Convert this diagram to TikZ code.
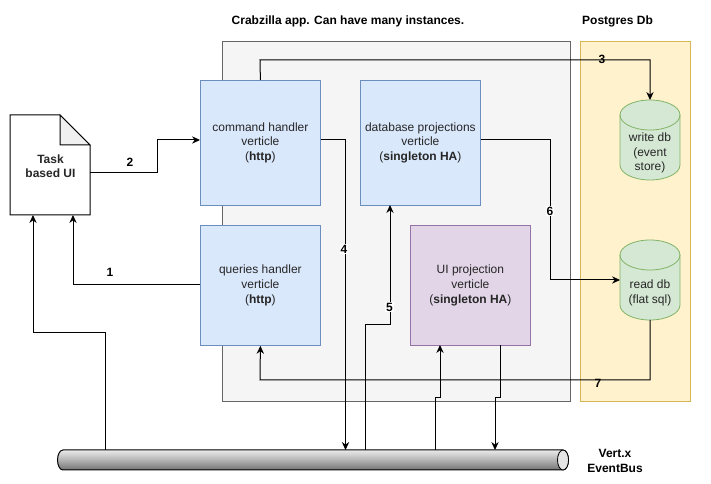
\documentclass[tikz,border=0pt]{standalone}
\usepackage{fontspec}
\setmainfont{Liberation Sans}
\usetikzlibrary{arrows.meta}
\definecolor{boxblue}{HTML}{DAE8FC}\definecolor{edgeblue}{HTML}{6C8EBF}
\definecolor{boxpurple}{HTML}{E1D5E7}\definecolor{edgepurple}{HTML}{9673A6}
\definecolor{boxgreen}{HTML}{D5E8D4}\definecolor{edgegreen}{HTML}{82B366}
\definecolor{boxyellow}{HTML}{FFF2CC}\definecolor{edgeyellow}{HTML}{D6B656}
\definecolor{boxgray}{HTML}{F5F5F5}\definecolor{edgegray}{HTML}{666666}
\tikzset{
 x=0.75pt,y=-0.75pt,
 lbl/.style={font=\fontsize{9}{10.9}\selectfont,align=center,inner sep=0pt,text=black!85},
 vbox/.style={lbl,draw=edgeblue,fill=boxblue,line width=0.6pt,minimum width=90pt,inner sep=0pt,anchor=north west},
 purplebox/.style={vbox,draw=edgepurple,fill=boxpurple},
 cyl/.style={draw=edgegreen,fill=boxgreen,line width=0.6pt},
 hold/.style={inner sep=0pt,outer sep=0pt,anchor=north west},
 conn/.style={draw=black,line width=0.75pt,-{Stealth[length=6pt,width=5.5pt,inset=2pt]}},
 num/.style={font=\bfseries\fontsize{9}{10}\selectfont,inner sep=0.5pt},
 numw/.style={num,fill=white},
 head/.style={font=\bfseries\fontsize{9}{10.9}\selectfont,align=center,inner sep=0pt}
}
\begin{document}
\begin{tikzpicture}
\useasboundingbox (0,0) rectangle (711,484);
\fill[white] (0,0) rectangle (711,484);
% containers
\draw[draw=edgegray,fill=boxgray,line width=0.6pt] (222,41) rectangle (570,401);
\draw[draw=edgeyellow,fill=boxyellow,line width=0.6pt] (580,41) rectangle (690,401);
\node[head] (apptitle) at (348,21) {Crabzilla app. Can have many instances.};
\node[head] (pgtitle) at (617.5,21) {Postgres Db};
% document
\draw[fill=white,draw=black,line width=0.75pt] (10,115) -- (60,115) -- (90,145) -- (90,215) -- (10,215) -- cycle;
\draw[fill=black!6,draw=black,line width=0.75pt] (60,115) -- (90,145) -- (60,145) -- cycle;
\node[hold,minimum width=60pt,minimum height=75pt] (doc) at (10,115) {};
\node[font=\bfseries\fontsize{9}{10.5}\selectfont,align=center,text=black!85,inner sep=0pt] (doctext) at (50.5,166.5) {Task\\based UI};
% bus
\shade[top color=black!8,bottom color=black!55,middle color=black!30,shading angle=0] (63,450) -- (563,450) .. controls (566,450) and (568.5,454.5) .. (568.5,460) .. controls (568.5,465.5) and (566,470) .. (563,470) -- (63,470) .. controls (60,470) and (57.5,465.5) .. (57.5,460) .. controls (57.5,454.5) and (60,450) .. (63,450) -- cycle;
\draw[line width=0.75pt,draw=black] (63,450) -- (563,450) .. controls (566,450) and (568.5,454.5) .. (568.5,460) .. controls (568.5,465.5) and (566,470) .. (563,470) -- (63,470) .. controls (60,470) and (57.5,465.5) .. (57.5,460) .. controls (57.5,454.5) and (60,450) .. (63,450) -- cycle;
\draw[fill=black!10,line width=0.6pt] (563,450) .. controls (566,450) and (568.5,454.5) .. (568.5,460) .. controls (568.5,465.5) and (566,470) .. (563,470) .. controls (560,470) and (557.5,465.5) .. (557.5,460) .. controls (557.5,454.5) and (560,450) .. (563,450) -- cycle;
\node[hold,minimum width=382.5pt,minimum height=15pt] (bus) at (58,450) {};
\node[head] (buslabel) at (615,461) {Vert.x\\EventBus};
% verticles
\node[vbox,minimum height=93.75pt] (cmd) at (200,80) {command handler\\verticle\\(\textbf{http})};
\node[vbox,minimum height=90pt] (qry) at (200,225) {queries handler\\verticle\\(\textbf{http})};
\node[vbox,minimum height=93.75pt] (dbp) at (360,80) {database projections\\verticle\\(\textbf{singleton HA})};
\node[purplebox,minimum height=90pt] (uip) at (410,225) {UI projection\\verticle\\(\textbf{singleton HA})};
% databases
\draw[cyl] (620,115) -- (620,165) .. controls (620,173.3) and (633.4,180) .. (650,180) .. controls (666.6,180) and (680,173.3) .. (680,165) -- (680,115) .. controls (680,106.7) and (666.6,100) .. (650,100) .. controls (633.4,100) and (620,106.7) .. (620,115) -- cycle;
\draw[cyl,fill=none] (620,115) .. controls (620,123.3) and (633.4,130) .. (650,130) .. controls (666.6,130) and (680,123.3) .. (680,115);
\node[hold,minimum width=45pt,minimum height=60pt] (wdb) at (620,100) {};
\node[lbl] (wdbtext) at (650,153) {write db\\(event\\store)};
\draw[cyl] (620,255) -- (620,305) .. controls (620,313.3) and (633.4,320) .. (650,320) .. controls (666.6,320) and (680,313.3) .. (680,305) -- (680,255) .. controls (680,246.7) and (666.6,240) .. (650,240) .. controls (633.4,240) and (620,246.7) .. (620,255) -- cycle;
\draw[cyl,fill=none] (620,255) .. controls (620,263.3) and (633.4,270) .. (650,270) .. controls (666.6,270) and (680,263.3) .. (680,255);
\node[hold,minimum width=45pt,minimum height=60pt] (rdb) at (620,240) {};
\node[lbl] (rdbtext) at (650,293) {read db\\(flat sql)};
% connectors
\coordinate (b1) at (105,450); \coordinate (b4) at (345.5,450); \coordinate (b5) at (365,450);
\coordinate (b8) at (435,450); \coordinate (b9) at (495,450);
\path[conn] (doc.east |- 0,173) -- (157,173) -- (157,140) -- (cmd.west |- 0,140);
\path[conn] (qry.west |- 0,285) -- (73,285) -- (73,215);
\path[conn] (b1) -- (105,333) -- (33,333) -- (33,215);
\path[conn] (cmd.north) -- (260,60) -- (650,60) -- (wdb.north);
\path[conn] (cmd.east |- 0,140) -- (345.5,140) -- (b4);
\path[conn] (b5) -- (365,325) -- (390,325) -- (390,205);
\path[conn] (dbp.east |- 0,140) -- (550,140) -- (550,280) -- (620,280);
\path[conn] (rdb.south) -- (650,380) -- (260,380) -- (qry.south);
\path[conn] (b8) -- (435,398) -- (440,398) -- (440,345);
\path[conn] (500,345) -- (500,398) -- (495,398) -- (b9);
% labels
\node[num] (n1) at (110,272) {1};
\node[num] (n2) at (130,162) {2};
\node[num] (n3) at (602,59) {3};
\node[numw] (n4) at (344,249) {4};
\node[numw] (n5) at (389.5,307) {5};
\node[numw] (n6) at (550,211) {6};
\node[num] (n7) at (598,383) {7};
\end{tikzpicture}
\end{document}
